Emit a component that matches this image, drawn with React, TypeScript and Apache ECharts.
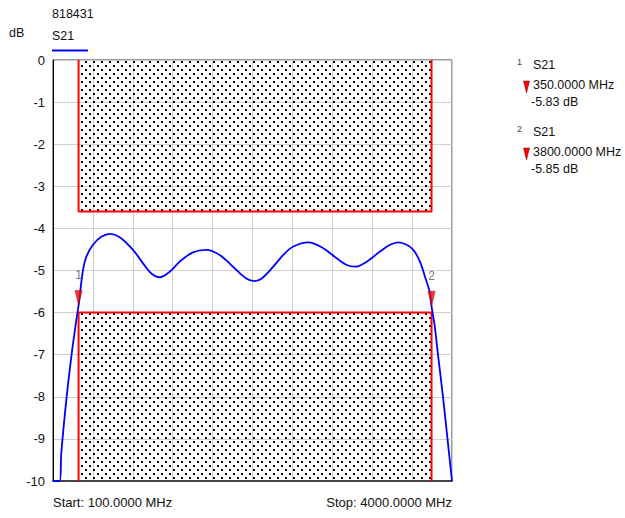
import React, { useEffect, useRef } from "react";
import * as echarts from "echarts";

const START_MHZ = 100;
const STOP_MHZ = 4000;
const X_DIV = 390;
const yTicks = [0, -1, -2, -3, -4, -5, -6, -7, -8, -9, -10];

// S21 trace (MHz, dB); values below -10 dB shown clamped at -10
const traceFreq = [100, 165, 181, 230, 279, 328, 350, 393, 426, 491, 572, 660, 752, 882, 980, 1061, 1143, 1240, 1338, 1468, 1598, 1729, 1859, 1989, 2071, 2140, 2253, 2351, 2449, 2595, 2742, 2873, 2971, 3052, 3166, 3296, 3394, 3475, 3557, 3622, 3687, 3736, 3785, 3800, 3830, 3863, 3912, 3956, 4000];
const traceDb = [-10, -10, -9.34, -8.08, -7.05, -6.18, -5.83, -4.99, -4.67, -4.39, -4.2, -4.13, -4.21, -4.51, -4.83, -5.07, -5.16, -5.03, -4.79, -4.57, -4.51, -4.63, -4.91, -5.19, -5.25, -5.19, -4.91, -4.63, -4.43, -4.33, -4.47, -4.71, -4.87, -4.91, -4.79, -4.55, -4.39, -4.33, -4.39, -4.51, -4.79, -5.15, -5.54, -5.85, -6.3, -7.0, -8.0, -9.0, -10];

// limit masks
const upperMaskFreq = [350, 350, 3800, 3800];
const upperMaskDb = [0, -3.6, -3.6, 0];
const lowerMaskFreq = [350, 350, 3800, 3800];
const lowerMaskDb = [-10, -6, -6, -10];

// markers
const markerNames = ["1", "2"];
const markerFreq = [350, 3800];
const markerDb = [-5.83, -5.85];

const FONT = "Liberation Sans, Arial, sans-serif";

function makeDots(): HTMLCanvasElement {
  const c = document.createElement("canvas");
  c.width = 8;
  c.height = 8;
  const ctx = c.getContext("2d")!;
  ctx.fillStyle = "#000";
  ctx.fillRect(1, 1, 2, 2);
  ctx.fillRect(5, 5, 2, 2);
  return c;
}

export default function App() {
  const ref = useRef<HTMLDivElement>(null);
  useEffect(() => {
    const chart = echarts.init(ref.current!, null, { renderer: "svg" });
    const toX = (f: number) => f - START_MHZ;
    const trace = traceFreq.map((f, i) => [toX(f), traceDb[i]]);
    const upper = upperMaskFreq.map((f, i) => [toX(f), upperMaskDb[i]]);
    const lower = lowerMaskFreq.map((f, i) => [toX(f), lowerMaskDb[i]]);
    const pattern = { image: makeDots(), repeat: "repeat" };

    const text = (x: number, y: number, t: string, extra: any = {}) => ({
      type: "text",
      x,
      y,
      style: {
        text: t,
        fontFamily: FONT,
        fontSize: 12.5,
        fill: "#111",
        textVerticalAlign: "middle",
        ...extra,
      },
    });

    const legendY = [0, 67];
    const legendGraphics: any[] = [];
    markerNames.forEach((n, i) => {
      const dy = legendY[i];
      legendGraphics.push(text(517, 62 + dy, n, { fontSize: 9, fill: "#444" }));
      legendGraphics.push(text(533, 65 + dy, "S21"));
      legendGraphics.push({
        type: "polygon",
        shape: { points: [[523.5, 81 + dy], [529.5, 81 + dy], [526.5, 93 + dy]] },
        style: { fill: "#ff0000", stroke: "#700", lineWidth: 0.5 },
      });
      legendGraphics.push(text(533, 84.5 + dy, `${markerFreq[i].toFixed(4)} MHz`));
      legendGraphics.push(text(531, 101.5 + dy, `${markerDb[i].toFixed(2)} dB`));
    });

    chart.setOption({
      animation: false,
      grid: {
        left: 53,
        right: 173,
        top: 60,
        bottom: 37,
        show: true,
        borderColor: "#333",
        borderWidth: 1,
      },
      xAxis: {
        type: "value",
        min: 0,
        max: STOP_MHZ - START_MHZ,
        interval: X_DIV,
        axisLabel: { show: false },
        axisTick: { show: false },
        axisLine: { show: true, onZero: false, lineStyle: { color: "#444", width: 2 } },
        splitLine: { show: true, lineStyle: { color: "#cfcfcf", width: 1 } },
      },
      yAxis: {
        type: "value",
        min: -10,
        max: 0,
        interval: 1,
        axisLabel: {
          fontFamily: FONT,
          fontSize: 13,
          color: "#111",
          margin: 8,
          formatter: (v: number) => (yTicks.includes(v) ? String(v) : ""),
        },
        axisTick: { show: false },
        axisLine: { show: true, onZero: false, lineStyle: { color: "#000", width: 1 } },
        splitLine: { show: true, lineStyle: { color: "#cfcfcf", width: 1 } },
      },
      series: [
        {
          type: "line",
          data: upper,
          symbol: "none",
          z: 3,
          lineStyle: { color: "#ff0000", width: 2 },
          markArea: {
            silent: true,
            itemStyle: { color: pattern as any, borderWidth: 0 },
            data: [[{ coord: [upper[0][0], 0] }, { coord: [upper[2][0], upperMaskDb[1]] }]],
          },
        },
        {
          type: "line",
          data: lower,
          symbol: "none",
          z: 3,
          lineStyle: { color: "#ff0000", width: 2 },
          markArea: {
            silent: true,
            itemStyle: { color: pattern as any, borderWidth: 0 },
            data: [[{ coord: [lower[1][0], lowerMaskDb[1]] }, { coord: [lower[2][0], -10] }]],
          },
        },
        {
          type: "line",
          data: trace,
          symbol: "none",
          smooth: 0.35,
          z: 4,
          lineStyle: { color: "#0000ff", width: 1.8 },
        },
        {
          type: "scatter",
          z: 5,
          data: markerFreq.map((f, i) => ({ value: [toX(f), markerDb[i]], name: markerNames[i] })),
          symbol: "triangle",
          symbolRotate: 180,
          symbolSize: [7, 15],
          symbolOffset: [0, "-50%"],
          itemStyle: { color: "#ff0000", borderColor: "#700", borderWidth: 0.5 },
          label: {
            show: true,
            position: "top",
            distance: 2,
            formatter: (p: any) => p.name,
            fontFamily: FONT,
            fontSize: 12,
            color: "#555",
            offset: [0, -7],
          },
        },
      ],
      graphic: [
        text(52, 14, "818431"),
        text(9, 33, "dB"),
        text(52, 36, "S21"),
        { type: "rect", shape: { x: 52, y: 49.5, width: 36, height: 2 }, style: { fill: "#0000ff" } },
        text(53, 502, "Start: 100.0000 MHz", { fontSize: 13 }),
        text(452, 502, "Stop: 4000.0000 MHz", { fontSize: 13, textAlign: "right" }),
        ...legendGraphics,
      ],
    });
    return () => chart.dispose();
  }, []);
  return (
    <div
      ref={ref}
      style={{ position: "fixed", left: 0, top: 0, width: 625, height: 518, background: "#fff" }}
    />
  );
}
